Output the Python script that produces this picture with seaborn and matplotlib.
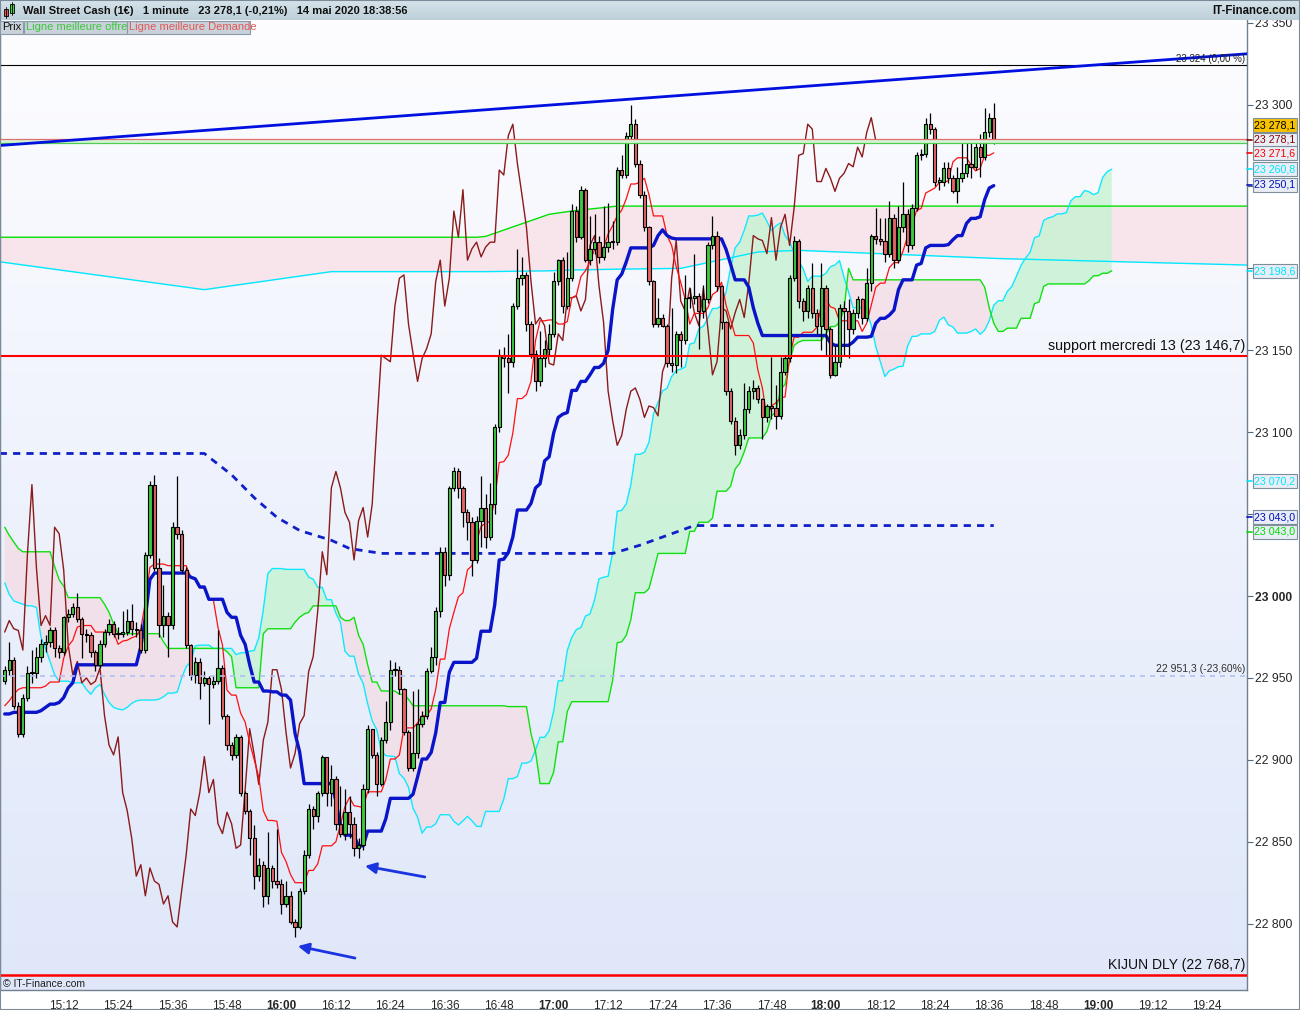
import numpy as np
import pandas as pd
import seaborn as sns
import matplotlib
matplotlib.use("Agg")
import matplotlib.pyplot as plt
from matplotlib.patches import Rectangle
from matplotlib.colors import LinearSegmentedColormap

W, H = 1300, 1010

# 1-minute candles, 14:59 -> 18:37 (index k), open = previous close
first_open = 22948
closes = [22955, 22961, 22933, 22916, 22938, 22953, 22953, 22963, 22971, 22972,
          22979, 22968, 22966, 22987, 22989, 22993, 22986, 22977, 22976, 22966,
          22958, 22971, 22978, 22983, 22977, 22977, 22978, 22985, 22980, 22979,
          22967, 23025, 23068, 23017, 22982, 22988, 22982, 23042, 23038, 23016,
          22970, 22952, 22960, 22947, 22950, 22946, 22948, 22956, 22927, 22909,
          22903, 22914, 22880, 22869, 22852, 22829, 22836, 22817, 22834, 22826,
          22824, 22812, 22817, 22801, 22798, 22820, 22842, 22870, 22866, 22880,
          22902, 22880, 22888, 22861, 22855, 22868, 22861, 22846, 22848, 22882,
          22919, 22903, 22885, 22912, 22923, 22955, 22955, 22943, 22917, 22895,
          22904, 22922, 22927, 22954, 22963, 22991, 23027, 23013, 23066, 23076,
          23066, 23051, 23045, 23022, 23046, 23054, 23036, 23056, 23103, 23147,
          23145, 23143, 23177, 23194, 23196, 23166, 23148, 23131, 23145, 23151,
          23160, 23192, 23205, 23177, 23194, 23235, 23219, 23248, 23205, 23212,
          23216, 23207, 23213, 23216, 23216, 23260, 23257, 23281, 23288, 23264,
          23245, 23225, 23192, 23166, 23170, 23165, 23142, 23141, 23160, 23156,
          23182, 23182, 23183, 23174, 23181, 23214, 23220, 23189, 23167, 23125,
          23107, 23092, 23098, 23114, 23125, 23127, 23120, 23109, 23116, 23115,
          23110, 23137, 23145, 23194, 23217, 23180, 23174, 23188, 23173, 23165,
          23188, 23163, 23135, 23143, 23176, 23174, 23163, 23173, 23181, 23170,
          23191, 23220, 23218, 23217, 23209, 23231, 23205, 23225, 23233, 23214,
          23237, 23269, 23270, 23288, 23285, 23253, 23253, 23261, 23255, 23247,
          23255, 23258, 23264, 23262, 23274, 23268, 23283, 23292, 23278]
highs = [22957, 22972, 22963, 22935, 22940, 22957, 22967, 22969, 22974, 22976,
         22981, 22981, 22970, 22988, 22992, 22996, 23002, 22987, 22980, 22978,
         22967, 22973, 22980, 22986, 22985, 22981, 22991, 22992, 22995, 22984,
         22983, 23027, 23070, 23074, 23023, 23007, 22990, 23045, 23073, 23040,
         23018, 22971, 22963, 22962, 22954, 22951, 22951, 22979, 22958, 22928,
         22911, 22916, 22915, 22881, 22870, 22860, 22840, 22838, 22856, 22836,
         22858, 22827, 22826, 22820, 22803, 22822, 22845, 22873, 22872, 22881,
         22903, 22902, 22897, 22890, 22884, 22882, 22878, 22865, 22852, 22885,
         22921, 22919, 22905, 22914, 22936, 22961, 22960, 22957, 22944, 22918,
         22942, 22943, 22930, 22956, 22969, 22993, 23030, 23030, 23067, 23079,
         23078, 23067, 23053, 23048, 23049, 23073, 23062, 23069, 23105, 23151,
         23152, 23160, 23179, 23212, 23207, 23198, 23168, 23150, 23162, 23156,
         23166, 23198, 23206, 23207, 23210, 23239, 23238, 23250, 23249, 23232,
         23233, 23220, 23238, 23240, 23229, 23262, 23269, 23283, 23300, 23291,
         23266, 23247, 23226, 23193, 23182, 23172, 23166, 23176, 23162, 23162,
         23196, 23188, 23209, 23185, 23190, 23216, 23232, 23223, 23190, 23168,
         23127, 23109, 23102, 23130, 23128, 23132, 23129, 23121, 23117, 23146,
         23129, 23146, 23147, 23196, 23220, 23218, 23182, 23190, 23203, 23175,
         23203, 23190, 23164, 23153, 23178, 23180, 23181, 23175, 23183, 23182,
         23200, 23221, 23237, 23231, 23231, 23241, 23233, 23238, 23253, 23236,
         23239, 23271, 23273, 23292, 23295, 23286, 23256, 23265, 23265, 23257,
         23262, 23277, 23279, 23277, 23279, 23282, 23298, 23295, 23301]
lows = [22946, 22952, 22931, 22914, 22914, 22936, 22947, 22950, 22960, 22966,
        22969, 22963, 22962, 22964, 22984, 22987, 22984, 22962, 22972, 22963,
        22954, 22956, 22969, 22976, 22975, 22974, 22975, 22976, 22976, 22975,
        22965, 22965, 23023, 23015, 22975, 22975, 22963, 22980, 23035, 23014,
        22968, 22949, 22947, 22937, 22945, 22922, 22944, 22946, 22925, 22906,
        22900, 22901, 22878, 22867, 22842, 22821, 22826, 22810, 22812, 22822,
        22822, 22806, 22810, 22800, 22792, 22797, 22818, 22840, 22858, 22862,
        22878, 22872, 22872, 22857, 22853, 22851, 22852, 22841, 22840, 22845,
        22880, 22901, 22878, 22884, 22910, 22918, 22951, 22940, 22915, 22893,
        22893, 22901, 22920, 22925, 22953, 22958, 22987, 23006, 23010, 23064,
        23060, 23042, 23034, 23012, 23020, 23030, 23029, 23034, 23050, 23100,
        23140, 23124, 23140, 23175, 23190, 23162, 23145, 23125, 23128, 23140,
        23147, 23158, 23190, 23173, 23175, 23192, 23216, 23218, 23204, 23202,
        23209, 23203, 23205, 23210, 23212, 23214, 23255, 23255, 23279, 23262,
        23243, 23223, 23190, 23164, 23164, 23164, 23140, 23137, 23136, 23140,
        23154, 23176, 23178, 23151, 23170, 23179, 23212, 23186, 23163, 23123,
        23105, 23086, 23090, 23096, 23112, 23120, 23118, 23096, 23106, 23108,
        23102, 23108, 23135, 23143, 23192, 23176, 23168, 23170, 23170, 23160,
        23150, 23147, 23133, 23134, 23140, 23147, 23145, 23160, 23170, 23166,
        23168, 23186, 23215, 23214, 23204, 23207, 23200, 23203, 23222, 23210,
        23212, 23235, 23266, 23268, 23282, 23250, 23248, 23250, 23252, 23246,
        23240, 23253, 23256, 23255, 23260, 23256, 23266, 23280, 23276]

# indicator values at the left edge (they depend on candles before the window)
tenkan_head = [22933, 22936, 22940, 22943, 22944, 22944, 22944, 22944]
kijun_head = [22928, 22928, 22929, 22929, 22929, 22929, 22929, 22929,
              22930, 22932, 22934, 22934, 22935, 22938, 22944, 22947]
senkou_a_head = [23008, 23001, 22997, 22996, 22995, 22994, 22994, 22993, 22975, 22968,
                 22960, 22952, 22948, 22948, 22948, 22947, 22947, 22947, 22943, 22940,
                 22944, 22946, 22940, 22935, 22932, 22931]
senkou_b_head = [23042, 23037, 23033, 23029, 23027, 23027, 23027, 23027, 23027, 23027,
                 23027, 23018, 23010, 23006, 22999, 22999, 22999, 22999, 22999, 22999,
                 22999, 22999, 22995, 22990, 22983, 22977, 22977, 22977, 22977, 22977,
                 22977, 22977, 22977, 22977, 22977, 22972, 22968, 22968, 22968, 22968,
                 22968, 22968, 22968, 22968, 22968, 22968, 22968, 22968, 22968, 22966,
                 22963, 22944, 22944, 22944, 22944, 22944, 22944, 22977, 22980, 22980,
                 22980, 22980, 22980, 22980, 22984, 22987, 22989, 22990, 22994, 22994,
                 22994, 22994, 22994, 22994, 22987, 22985, 22985]

# dashed blue line (higher time frame kijun)
dash_k = [-1.1, 44, 50, 55, 60, 65, 72, 76, 83, 134, 140, 149, 152, 218]
dash_v = [23087, 23087, 23074, 23060, 23048, 23040, 23034, 23029, 23026, 23026,
          23031, 23040, 23043, 23043]

# daily cloud
daily_k = [-1.1, 44, 72, 104, 106, 120, 125, 135, 149, 166, 175, 219, 274]
daily_green = [23219, 23219, 23219, 23219, 23219.5, 23233, 23235, 23238, 23238,
               23238, 23238, 23238, 23238]
daily_cyan = [23204, 23187, 23198, 23198, 23198, 23198.5, 23199, 23199.5, 23200,
              23210, 23211, 23206, 23202]

trend_k = [-1.1, 274]
trend_v = [23275, 23331]

last_price = 23324
support_wed = 23146.7
kijun_dly = 22768.7
fibo_level = 22951.3
best_ask = 23278.8
best_bid = 23276.7

ytick_vals = [22800, 22850, 22900, 22950, 23000, 23050, 23100, 23150, 23200, 23250, 23300, 23350]
ytick_hidden = [23050, 23200, 23250]

# right side price boxes: (pixel y, text, text colour, box colour, tick colour)
price_boxes = [
    (125, "23 278,1", "black", "#f6c200", None),
    (140, "23 278,1", "#8b0000", "#e9edf5", "#8b0000"),
    (153, "23 271,6", "#ff0000", "#e9edf5", "#ff0000"),
    (169, "23 260,8", "#00e5ff", "#e9edf5", "#00e5ff"),
    (185, "23 250,1", "#0010c0", "#e9edf5", "#0010c0"),
    (271, "23 198,6", "#00e5ff", "#e9edf5", "#00e5ff"),
    (481, "23 070,2", "#00e5ff", "#e9edf5", "#00e5ff"),
    (517, "23 043,0", "#0010c0", "#e9edf5", "#0010c0"),
    (532, "23 043,0", "#00dd00", "#e9edf5", "#00dd00"),
]

sns.set_style("white")
plt.rcParams['font.family'] = ['Liberation Sans', 'DejaVu Sans']

# ---- ichimoku ----
df = pd.DataFrame({'high': highs, 'low': lows, 'close': closes})
df['k'] = np.arange(len(df))
df['open'] = [first_open] + closes[:-1]


def mid(n):
    return (df['high'].rolling(n, min_periods=1).max() + df['low'].rolling(n, min_periods=1).min()) / 2


df['tenkan'] = mid(9)
df.loc[:len(tenkan_head) - 1, 'tenkan'] = tenkan_head
df['kijun'] = mid(26)
df.loc[:len(kijun_head) - 1, 'kijun'] = kijun_head

shift = 26
n = len(df)
cloud = pd.DataFrame({'k': np.arange(n + shift), 'a': np.nan, 'b': np.nan})
cloud.loc[shift:, 'a'] = ((df['tenkan'] + df['kijun']) / 2).values
cloud.loc[shift:, 'b'] = mid(52).values
cloud.loc[:len(senkou_a_head) - 1, 'a'] = senkou_a_head
cloud.loc[:len(senkou_b_head) - 1, 'b'] = senkou_b_head

chikou = pd.DataFrame({'k': df['k'].values[shift:] - shift, 'v': df['close'].values[shift:]})

# ---- figure ----
fig = plt.figure(figsize=(13, 10.1), dpi=100)
fig.patch.set_facecolor('white')
ax = fig.add_axes([0, 20 / H, 1247 / W, 970 / H])

x0, x1 = (0 - 4.7) / 4.537, (1247 - 4.7) / 4.537
y0, y1 = 22759.5, 23351.6

grad = np.linspace(0, 1, 256).reshape(-1, 1)
bg = LinearSegmentedColormap.from_list('bg', ['#fdfdff', '#dfe7f9'])
ax.imshow(grad, extent=[x0, x1, y0, y1], aspect='auto', cmap=bg, zorder=0)

# daily cloud
ax.fill_between(daily_k, daily_green, daily_cyan, color='#f8dfe6', alpha=0.75, lw=0, zorder=1)
ax.plot(daily_k, daily_green, color='#00e000', lw=1.0, zorder=2)
ax.plot(daily_k, daily_cyan, color='#00e8ff', lw=1.0, zorder=2)

# 1 minute cloud
ax.fill_between(cloud['k'], cloud['a'], cloud['b'], where=cloud['a'] >= cloud['b'],
                interpolate=True, color='#c6f3d2', alpha=0.8, lw=0, zorder=1.5)
ax.fill_between(cloud['k'], cloud['a'], cloud['b'], where=cloud['a'] < cloud['b'],
                interpolate=True, color='#f3dde5', alpha=0.8, lw=0, zorder=1.5)
sns.lineplot(data=cloud, x='k', y='a', ax=ax, color='#10e8ff', lw=1.0, estimator=None, sort=False, zorder=2.5)
sns.lineplot(data=cloud, x='k', y='b', ax=ax, color='#10e010', lw=1.0, estimator=None, sort=False, zorder=2.5)

ax.plot(dash_k, dash_v, color='#1020c8', lw=2.0, ls=(0, (2.6, 2.2)), zorder=3)

sns.lineplot(data=chikou, x='k', y='v', ax=ax, color='#8b1a1a', lw=1.0, estimator=None, sort=False, zorder=3)
sns.lineplot(data=df, x='k', y='tenkan', ax=ax, color='#ff1010', lw=0.9, estimator=None, sort=False, zorder=3)
sns.lineplot(data=df, x='k', y='kijun', ax=ax, color='#0a14c8', lw=2.4, estimator=None, sort=False, zorder=4)

# candles
o = df['open'].values
c = df['close'].values
body_lo = np.minimum(o, c)
body_h = np.clip(np.abs(c - o), 0.7, None)
colors = np.where(c >= o, '#3ec83e', '#e46464')
ax.vlines(df['k'], df['low'], df['high'], color='black', lw=0.9, zorder=5)
ax.bar(df['k'], body_h, bottom=body_lo, width=0.72, color=colors, edgecolor='black', linewidth=0.8, zorder=6)

# horizontal levels
ax.axhspan(best_bid, best_ask, color='#d4f4d4', lw=0, zorder=6.5)
ax.axhline(best_ask, color='#e07070', lw=0.9, zorder=7)
ax.axhline(best_bid, color='#50cc50', lw=0.9, zorder=7)
ax.axhline(last_price, color='black', lw=0.8, zorder=7)
ax.axhline(support_wed, color='#ff0000', lw=1.5, zorder=7)
ax.axhline(kijun_dly, color='#ff0000', lw=1.8, zorder=7)
ax.axhline(fibo_level, color='#b0c0f4', lw=1.2, ls=(0, (3, 3)), zorder=7)
ax.plot(trend_k, trend_v, color='#0010e0', lw=2.0, zorder=8)

ty = ax.get_yaxis_transform()
ax.text(1245 / 1247, last_price + 0.5, "23 324 (0,00 %)", transform=ty, ha='right', va='bottom', fontsize=7, color='#202020', zorder=9)
ax.text(1245 / 1247, support_wed + 1.5, "support mercredi 13 (23 146,7)", transform=ty, ha='right', va='bottom', fontsize=10.3, color='#101010', zorder=9)
ax.text(1245 / 1247, kijun_dly + 1.5, "KIJUN DLY (22 768,7)", transform=ty, ha='right', va='bottom', fontsize=10, color='#101010', zorder=9)
ax.text(1245 / 1247, fibo_level + 0.8, "22 951,3 (-23,60%)", transform=ty, ha='right', va='bottom', fontsize=7.5, color='#303030', zorder=9)

arrow = dict(arrowstyle='-|>', color='#1a35e0', lw=2, mutation_scale=16, shrinkA=0, shrinkB=0)
ax.annotate('', xy=(79.4, 22835.2), xytext=(92.6, 22828.5), arrowprops=arrow, zorder=9)
ax.annotate('', xy=(64.6, 22786.3), xytext=(77.2, 22779.0), arrowprops=arrow, zorder=9)

ax.set_xlim(x0, x1)
ax.set_ylim(y0, y1)
ax.set_xlabel('')
ax.set_ylabel('')

# axes, ticks
tick_k = list(range(13, 270, 12))
tick_lab = []
for i in range(len(tick_k)):
    mins = 15 * 60 + 12 + 12 * i
    tick_lab.append(f"{mins // 60}:{mins % 60:02d}")
ax.set_xticks(tick_k)
ax.set_xticklabels(tick_lab)
for t, lab in zip(ax.get_xticklabels(), tick_lab):
    t.set_fontsize(8.5)
    if lab.endswith(":00"):
        t.set_fontweight('bold')

ax.yaxis.tick_right()
ax.set_yticks(ytick_vals)
ylab = ["" if v in ytick_hidden else f"{v // 1000} {v % 1000:03d}" for v in ytick_vals]
ax.set_yticklabels(ylab)
for t, lab in zip(ax.get_yticklabels(), ylab):
    t.set_fontsize(8.7)
    if lab == "23 000":
        t.set_fontweight('bold')
ax.tick_params(axis='both', direction='out', length=4, width=0.8, color='#56687a', pad=2)
ax.tick_params(axis='x', pad=3)
for s in ['left', 'right', 'bottom']:
    ax.spines[s].set_color('#708090')
    ax.spines[s].set_linewidth(1.0)
ax.spines['top'].set_visible(False)


def fxy(x, y):
    return x / W, 1 - y / H


# price boxes on the right axis
for yc, txt, tcol, face, tick in price_boxes:
    fig.add_artist(Rectangle(fxy(1252.5, yc + 7), 44 / W, 14 / H, transform=fig.transFigure,
                             facecolor=face, edgecolor='#7f8e9c', lw=0.8, zorder=5))
    fig.text(1254 / W, 1 - yc / H, txt, color=tcol, fontsize=7.7, va='center', ha='left', zorder=6)
    if tick:
        fig.add_artist(plt.Line2D([1247 / W, 1252 / W], [1 - yc / H, 1 - yc / H],
                                  transform=fig.transFigure, color=tick, lw=1.2, zorder=6))

fig.text(3 / W, 1 - 984 / H, "© IT-Finance.com", fontsize=7.5, va='center', ha='left', color='#202020')

# header bar
hax = fig.add_axes([0, 1 - 20 / H, 1, 20 / H])
hcm = LinearSegmentedColormap.from_list('hd', ['#d6e3ea', '#bccfd8'])
hax.imshow(grad, extent=[0, W, 20, 0], aspect='auto', cmap=hcm)
hax.set_xlim(0, W)
hax.set_ylim(20, 0)
hax.axis('off')
hax.add_patch(Rectangle((3.5, 9), 4, 7, facecolor='#e05050', edgecolor='black', lw=0.6))
hax.plot([5.5, 5.5], [7, 18], color='black', lw=0.6)
hax.add_patch(Rectangle((10, 4), 4, 9, facecolor='#40d040', edgecolor='black', lw=0.6))
hax.plot([12, 12], [2, 15], color='black', lw=0.6)
hax.text(23, 10.5, "Wall Street Cash (1€)   1 minute   23 278,1 (-0,21%)   14 mai 2020 18:38:56",
         fontsize=8.0, fontweight='bold', va='center', ha='left', color='#101010')
hax.text(1296, 10.5, "IT-Finance.com", fontsize=8.3, fontweight='bold', va='center', ha='right', color='#101010')

# legend strip
strip = [(0, 23, "Prix", "#101010"), (24, 103, "Ligne meilleure offre", "#3cc83c"),
         (127, 123, "Ligne meilleure Demande", "#e05858")]
for xs, wd, txt, col in strip:
    fig.add_artist(Rectangle(fxy(xs, 34), wd / W, 13 / H, transform=fig.transFigure,
                             facecolor='#c9d2da', edgecolor='#8a9aaa', lw=0.8, zorder=5))
    fig.text((xs + 2) / W, 1 - 27.5 / H, txt, color=col, fontsize=8, va='center', ha='left', zorder=6)

fig.add_artist(Rectangle((0, 0), 1, 1, transform=fig.transFigure, fill=False, edgecolor='#7a8a98', lw=1.5))

fig.savefig("out.png", dpi=100)
